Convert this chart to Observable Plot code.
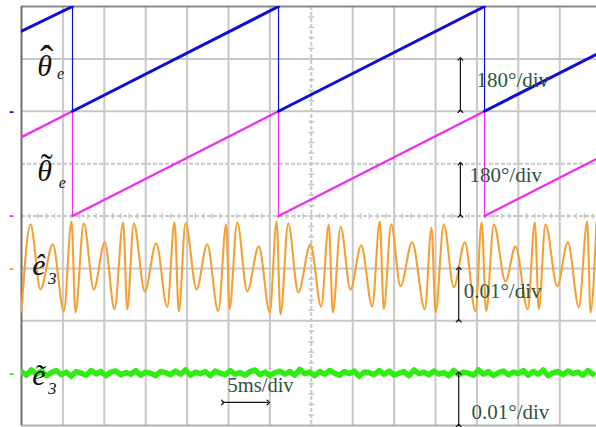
<!DOCTYPE html>
<html><head><meta charset="utf-8">
<script src="https://cdn.jsdelivr.net/npm/d3@7"></script>
<script src="https://cdn.jsdelivr.net/npm/@observablehq/plot@0.6"></script>
<style>body{margin:0;background:#fff} svg{display:block}</style>
</head><body><div id="chart"></div>
<script>
// ---- data (time in ms, 5 ms/div) ----
// sawtooth electrical angle traces, degrees (180°/div)
const sawTimes   = [0, 6.16, 6.16, 31.04, 31.04, 55.92, 55.92, 69.44];
const thetaHat   = [275, 360, 0, 360, 0, 360, 0, 196];
const thetaTilde = [271, 360, 0, 360, 0, 360, 0, 196];
const wrapTimes  = [6.16, 31.04, 55.92];

// ê3 extrema (time ms, value in 0.001°; 0.01°/div)
const e3HatTimes = [0,1.09,2.29,3.78,5.11,6.04,6.52,7.52,8.73,10.06,11.23,12.28,12.77,13.56,14.89,16.27,17.60,18.48,19.00,19.81,21.14,22.43,23.76,24.72,25.12,26.05,27.26,28.66,29.99,30.80,31.28,32.21,33.42,34.90,36.19,37.11,37.60,38.53,39.73,41.03,42.35,43.27,43.75,44.65,45.77,47.18,48.71,49.52,50.00,51.00,52.21,53.54,54.83,55.56,56.12,57.04,58.45,59.66,61.14,61.99,62.47,63.28,64.70,65.98,67.31,68.32,68.72,69.44];
const e3HatValues = [-8.2,8.4,-4.0,4.6,-8.2,9.0,-8.4,8.6,-4.0,5.0,-7.8,8.8,-7.8,8.6,-4.4,4.8,-7.4,8.8,-8.2,8.6,-4.0,4.6,-8.2,8.4,-7.8,8.8,-4.4,4.2,-8.4,9.0,-8.8,8.6,-4.6,4.6,-7.3,8.4,-8.4,8.0,-4.0,4.4,-7.3,9.0,-7.8,8.4,-3.4,5.0,-7.8,7.8,-8.4,8.4,-3.6,5.0,-8.2,8.8,-8.2,8.4,-2.5,4.2,-7.8,8.8,-7.8,8.4,-3.4,5.0,-7.4,9.0,-8.4,8.8];

// ẽ3 noise samples (0.001°), sample interval in ms
const e3TildeDt = 0.6;
const e3TildeValues = [0.3,-0.4,0.6,-0.2,0.4,-0.5,0.1,0.5,-0.3,0.2,-0.6,0.3,0.0,-0.4,0.5,-0.1,0.3,-0.5,0.2,0.4,-0.3,0.1,-0.2,0.5,-0.4,0.2,0.0,-0.5,0.3,0.1,-0.3,0.4,-0.2,0.6,-0.4,0.2,-0.1,0.3,-0.5,0.4,0.0,-0.3,0.5,-0.2,0.1,-0.4,0.3,0.6,-0.3,0.2,-0.5,0.1,0.4,-0.2,0.3,-0.4,0.7,-0.1,0.2,-0.5,0.3,-0.2,0.5,0.0,-0.4,0.3,-0.1,0.4,-0.6,0.2,0.1,-0.3,0.5,-0.2,0.4,-0.4,0.0,0.3,-0.5,0.6,-0.1,0.2,-0.3,0.4,-0.2,0.1,-0.5,0.5,-0.3,0.2,0.0,-0.4,0.6,-0.2,0.3,-0.5,0.1,0.4,-0.3,0.2,-0.1,0.5,-0.4,0.3,-0.2,0.6,-0.5,0.1,0.3,-0.3,0.4,-0.1,0.2,-0.4,0.5,-0.2];

// channel ground levels (division) and scales (units per division)
const channelLevels = [6, 4, 3, 1];
const channelScales = [180, 180, 10, 10];
const channelColors = ["#0e0ed4", "#f02cf0", "#f5a035", "#30ec12"];

// scale annotations
const scaleLabels = ["180°/div", "180°/div", "0.01°/div", "0.01°/div"];
const scaleBarTimes = [53.0, 53.0, 52.8, 52.8];
const scaleLabelTimes = [54.95, 54.1, 53.4, 54.35];
const scaleLabelLevels = [6.6, 4.78, 2.57, 0.26];
const timeLabel = "5ms/div";
const timeBar = [24.3, 29.8];

// ---- build tables ----
const toDiv = (i, v) => channelLevels[i] + v / channelScales[i];

function sawSegments(values, idx) {
  const out = [];
  for (let k = 0; k < sawTimes.length; k += 2) {
    out.push({t: sawTimes[k], y: toDiv(idx, values[k]), seg: k});
    out.push({t: sawTimes[k+1], y: toDiv(idx, values[k+1]), seg: k});
  }
  return out;
}
const blueRamp = sawSegments(thetaHat, 0);
const magRamp = sawSegments(thetaTilde, 1);
const orange = e3HatTimes.map((t, i) => ({t, y: toDiv(2, e3HatValues[i])}));
const green = e3TildeValues.map((v, i) => ({t: i * e3TildeDt, y: toDiv(3, v)}));

const vGrid = d3.range(0, 15).map(d => d * 5);
const hGrid = d3.range(0, 9);
const centerT = 35;
const minorY = d3.range(0, 8.01, 0.2);
const minorT = d3.range(0, 70.01, 1);

const bars = [
  {t: scaleBarTimes[0], y1: channelLevels[0], y2: channelLevels[0] + 1},
  {t: scaleBarTimes[1], y1: channelLevels[1], y2: channelLevels[1] + 1},
  {t: scaleBarTimes[2], y1: channelLevels[2] - 1, y2: channelLevels[2]},
  {t: scaleBarTimes[3], y1: channelLevels[3] - 1, y2: channelLevels[3]}
];
const labels = scaleLabels.map((s, i) => ({s, t: scaleLabelTimes[i], y: scaleLabelLevels[i]}));

const serif = "Liberation Serif, Times New Roman, serif";
const symbols = [
  {s: "θ", t: 1.9, y: 6.85, size: 30},
  {s: "e", t: 4.3, y: 6.72, size: 16},
  {s: "θ", t: 1.9, y: 4.85, size: 30},
  {s: "e", t: 4.5, y: 4.64, size: 16},
  {s: "ê", t: 1.3, y: 3.05, size: 30},
  {s: "3", t: 3.2, y: 2.80, size: 17},
  {s: "ẽ", t: 1.3, y: 0.95, size: 30},
  {s: "3", t: 3.2, y: 0.70, size: 17}
];
const accents = [
  {s: "ˆ", t: 3.05, y: 6.98, size: 40},
  {s: "˜", t: 3.05, y: 4.93, size: 36}
];

const markers = channelLevels.map((l, i) => ({t: -1.2, y: l, c: channelColors[i]}));

const plot = Plot.plot({
  width: 596, height: 427,
  marginLeft: 21, marginRight: 0, marginTop: 6, marginBottom: 2,
  x: {domain: [0, 69.44], axis: null},
  y: {domain: [0, 8], axis: null},
  style: {background: "#fff"},
  marks: [
    Plot.ruleX(vGrid.filter(d => d !== centerT && d !== 0), {stroke: "#c8c8c8", strokeWidth: 2}),
    Plot.ruleY(hGrid.filter(d => d !== 4 && d !== 5 && d !== 8 && d !== 0), {stroke: "#c8c8c8", strokeWidth: 2}),
    Plot.ruleX([centerT], {stroke: "#c8c8c8", strokeWidth: 2, strokeDasharray: "4,2"}),
    Plot.ruleY([5, 4], {stroke: "#c8c8c8", strokeWidth: 2, strokeDasharray: "4,2"}),
    Plot.link(minorY, {x1: centerT - 0.35, x2: centerT + 0.35, y1: d => d, y2: d => d, stroke: "#c8c8c8", strokeWidth: 1.5}),
    Plot.link(minorT, {x1: d => d, x2: d => d, y1: 3.95, y2: 4.05, stroke: "#c8c8c8", strokeWidth: 1.5}),
    Plot.ruleY([0], {stroke: "#b0b0b0", strokeWidth: 2}),
    Plot.ruleY([8], {stroke: "#8a8a8a", strokeWidth: 2}),
    Plot.ruleX([0], {stroke: "#6e6e6e", strokeWidth: 2}),
    // traces
    Plot.line(green, {x: "t", y: "y", stroke: channelColors[3], strokeWidth: 5.5, clip: true}),
    Plot.line(orange, {x: "t", y: "y", stroke: channelColors[2], strokeWidth: 2.1, curve: "monotone-x", clip: true}),
    Plot.ruleX(wrapTimes, {y1: channelLevels[1], y2: channelLevels[1] + 2, stroke: channelColors[1], strokeWidth: 1.2}),
    Plot.line(magRamp, {x: "t", y: "y", z: "seg", stroke: channelColors[1], strokeWidth: 2.3, clip: true}),
    Plot.ruleX(wrapTimes, {y1: channelLevels[0], y2: channelLevels[0] + 2, stroke: channelColors[0], strokeWidth: 1.2}),
    Plot.line(blueRamp, {x: "t", y: "y", z: "seg", stroke: channelColors[0], strokeWidth: 3, clip: true}),
    // scale bars
    Plot.link(bars, {x1: "t", x2: "t", y1: "y1", y2: "y2", stroke: "#111", strokeWidth: 1.2, markerStart: "arrow", markerEnd: "arrow"}),
    Plot.link([timeBar], {x1: d => d[0], x2: d => d[1], y1: 0.44, y2: 0.44, stroke: "#111", strokeWidth: 1.2, markerStart: "arrow", markerEnd: "arrow"}),
    Plot.text(labels, {x: "t", y: "y", text: "s", textAnchor: "start", fill: "#2d5540", fontSize: 21, fontFamily: serif}),
    Plot.text([timeLabel], {x: 24.88, y: 0.76, text: d => d, textAnchor: "start", fill: "#2d5540", fontSize: 20.5, fontFamily: serif}),
    Plot.text(symbols, {x: "t", y: "y", text: "s", fontSize: "size", textAnchor: "start", fill: "#111", fontFamily: serif, fontStyle: "italic"}),
    Plot.text(accents, {x: "t", y: "y", text: "s", fontSize: "size", textAnchor: "middle", fill: "#111", fontFamily: serif}),
    Plot.text(markers, {x: "t", y: "y", text: () => "-", fill: "c", fontSize: 14, fontWeight: "bold"})
  ]
});
document.getElementById("chart").append(plot);
</script></body></html>
